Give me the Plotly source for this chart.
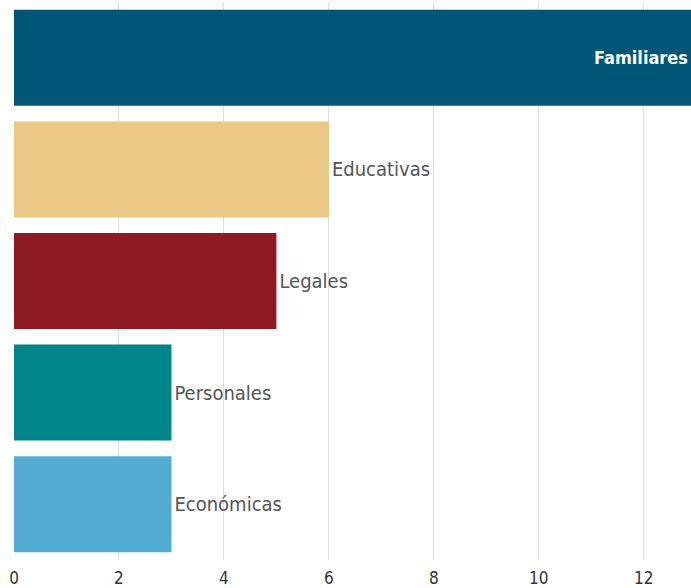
import plotly.graph_objects as go

categories = ["Familiares", "Educativas", "Legales", "Personales", "Económicas"]
values = [12.9, 6, 5, 3, 3]
colors = ["#005677", "#EAC886", "#8E1B24", "#00868A", "#52ABD0"]
tick_vals = [0, 2, 4, 6, 8, 10, 12]

font_family = "DejaVu Sans Condensed, Liberation Sans Narrow, sans-serif"

positions = ["inside" if v >= 10 else "outside" for v in values]

fig = go.Figure(go.Bar(
    x=values,
    y=categories,
    orientation="h",
    marker=dict(color=colors, line=dict(width=0)),
    text=categories,
    textposition=positions,
    insidetextanchor="end",
    textangle=0,
    insidetextfont=dict(color="#ffffff", size=18, family=font_family, weight="bold"),
    outsidetextfont=dict(color="#555555", size=20, family=font_family),
    cliponaxis=False,
    hoverinfo="x+y",
))

fig.update_layout(
    width=691,
    height=588,
    margin=dict(l=14, r=0, t=2, b=28, autoexpand=False),
    paper_bgcolor="white",
    plot_bgcolor="white",
    showlegend=False,
    bargap=0.14,
    xaxis=dict(
        range=[0, 12.9],
        tickvals=tick_vals,
        automargin=False,
        showgrid=True,
        gridcolor="#dddddd",
        gridwidth=1,
        zeroline=False,
        showline=False,
        ticks="",
        ticklabelstandoff=6,
        tickfont=dict(size=17, color="#333333", family=font_family),
        fixedrange=True,
    ),
    yaxis=dict(
        autorange="reversed",
        automargin=False,
        showticklabels=False,
        showgrid=False,
        zeroline=False,
        ticks="",
        fixedrange=True,
    ),
)

fig.write_html(
    "out.html",
    config={"displayModeBar": False},
    post_script="document.body.style.margin='0';document.body.style.overflow='hidden';",
)
